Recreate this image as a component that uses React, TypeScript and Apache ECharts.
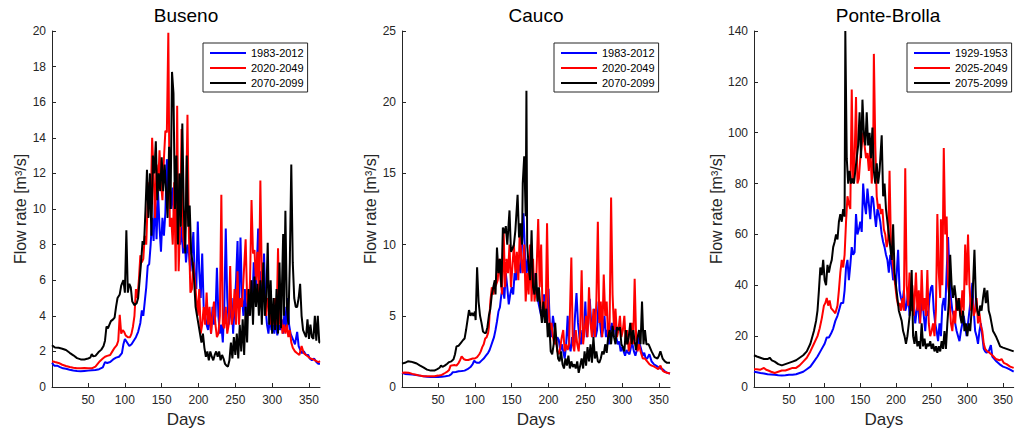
import React, { useEffect, useRef } from "react";
import * as echarts from "echarts";

// ---------- data ----------
const STATIONS = ["Buseno", "Cauco", "Ponte-Brolla"];
const PERIODS_BU = ["1983-2012", "2020-2049", "2070-2099"];
const PERIODS_CA = ["1983-2012", "2020-2049", "2070-2099"];
const PERIODS_PB = ["1929-1953", "2025-2049", "2075-2099"];
const DAY_TICKS = [50, 100, 150, 200, 250, 300, 350];
const Y_MAX = [20, 25, 140];
const Y_STEP = [2, 5, 20];
const X_TITLE = "Days";
const Y_TITLE = "Flow rate [m³/s]";

// Buseno
const buBlue = [[1,1.35],[4,1.2],[8,1.2],[12,1.12],[16,1.05],[20,1.02],[25,0.97],[30,0.93],[35,0.9],[40,0.88],[45,0.9],[50,0.92],[55,0.94],[60,0.95],[65,1.0],[70,1.1],[73,1.4],[76,1.35],[80,1.4],[84,1.55],[88,1.65],[92,1.7],[96,1.9],[98,2.4],[100,2.7],[103,2.5],[106,2.3],[109,2.4],[112,2.6],[115,2.8],[118,3.1],[121,3.6],[123,4.3],[125,4.0],[127,4.8],[129,5.6],[131,6.8],[133,6.9],[135,8.0],[137,9.5],[139,8.2],[141,10.8],[143,8.3],[145,11.0],[147,9.0],[149,7.6],[151,9.5],[153,8.5],[155,9.8],[157,12.8],[159,10.5],[161,11.5],[163,10.0],[165,11.2],[167,9.5],[169,10.5],[171,8.5],[173,9.5],[175,8.0],[177,9.0],[179,7.5],[181,8.5],[183,7.0],[185,8.0],[187,7.5],[189,6.5],[191,7.5],[193,8.7],[195,6.0],[197,5.5],[199,9.3],[201,6.5],[203,5.0],[205,7.5],[207,4.5],[209,4.0],[211,3.5],[213,3.2],[215,4.2],[217,3.0],[219,4.5],[221,3.5],[223,4.0],[225,6.7],[227,4.0],[229,3.0],[231,3.5],[233,2.5],[235,4.5],[237,8.9],[239,5.0],[241,3.5],[243,4.0],[245,5.0],[247,3.0],[249,4.5],[251,6.0],[253,8.2],[255,4.5],[257,8.4],[259,5.0],[261,4.0],[263,5.5],[265,3.5],[267,5.0],[269,4.0],[271,6.0],[273,4.5],[275,7.0],[277,5.0],[279,6.5],[281,8.9],[283,5.5],[285,6.5],[287,5.0],[289,7.5],[291,4.5],[293,3.5],[295,3.0],[297,4.0],[299,3.2],[301,3.5],[303,3.0],[305,3.8],[307,2.9],[309,3.5],[311,3.2],[313,3.8],[315,3.0],[317,4.5],[319,3.2],[321,5.0],[323,3.5],[325,3.0],[327,2.8],[329,2.6],[331,2.4],[334,3.1],[336,2.3],[338,2.1],[340,1.9],[343,2.0],[346,1.8],[349,1.8],[351,1.6],[354,1.5],[357,1.6],[360,1.4],[363,1.3],[365,1.3]];
const buRed = [[1,1.45],[5,1.4],[10,1.35],[15,1.25],[20,1.18],[25,1.12],[30,1.08],[35,1.05],[40,1.05],[45,1.07],[50,1.05],[55,1.05],[60,1.15],[63,1.3],[66,1.45],[70,1.6],[73,1.7],[76,1.75],[80,1.8],[83,2.0],[86,2.2],[89,2.35],[91,2.6],[93,4.05],[95,3.0],[97,3.2],[99,3.1],[101,2.9],[104,2.8],[107,2.8],[109,3.0],[111,3.4],[113,4.0],[115,5.5],[117,5.0],[119,6.0],[121,7.4],[123,7.0],[125,7.2],[127,8.5],[129,8.0],[131,10.5],[133,11.5],[135,10.0],[137,14.0],[139,12.0],[141,9.5],[143,12.5],[145,11.0],[147,13.3],[149,11.5],[151,10.5],[153,12.8],[155,14.4],[157,14.3],[159,19.9],[161,9.0],[163,9.5],[165,8.0],[167,11.5],[169,6.5],[171,15.8],[173,6.5],[175,9.0],[177,14.5],[179,8.5],[181,7.8],[183,10.0],[185,15.3],[187,8.5],[189,5.3],[191,5.5],[193,7.0],[195,6.0],[197,5.0],[199,4.0],[201,5.5],[203,3.0],[205,3.5],[207,4.5],[209,3.5],[211,5.3],[213,3.5],[215,4.5],[217,3.0],[219,4.0],[221,4.8],[223,3.5],[225,2.8],[227,3.0],[229,4.0],[231,10.8],[233,3.5],[235,3.3],[237,4.5],[239,3.0],[241,3.5],[243,6.8],[245,3.5],[247,4.0],[249,5.5],[251,3.5],[253,6.5],[255,3.5],[257,5.0],[259,4.5],[261,6.0],[264,8.3],[266,5.0],[268,4.0],[270,6.0],[272,10.5],[274,7.5],[276,7.7],[278,6.0],[280,7.6],[282,5.0],[284,11.6],[286,6.0],[288,5.5],[290,5.0],[292,4.0],[294,5.0],[296,4.5],[298,3.5],[300,4.5],[302,3.5],[304,5.0],[306,3.5],[308,7.8],[310,3.5],[312,4.0],[314,3.0],[316,3.5],[318,3.0],[320,3.5],[322,2.8],[324,3.2],[326,2.5],[328,2.2],[331,2.0],[334,1.9],[337,1.8],[340,2.3],[343,1.9],[346,1.8],[349,1.7],[352,1.6],[356,1.55],[360,1.45],[363,1.4],[365,1.45]];
const buBlack = [[1,2.35],[5,2.22],[10,2.2],[15,2.15],[20,2.08],[25,1.92],[30,1.78],[35,1.62],[40,1.55],[45,1.55],[50,1.6],[53,1.65],[55,1.85],[57,1.72],[60,1.75],[64,1.95],[68,2.1],[71,2.3],[73,2.6],[75,3.4],[77,3.3],[79,3.5],[81,3.7],[84,3.8],[86,3.9],[88,4.5],[90,5.0],[93,5.2],[95,5.7],[98,6.0],[100,5.3],[102,8.8],[104,5.3],[106,5.8],[108,5.6],[110,4.8],[113,4.6],[116,4.7],[118,5.0],[120,6.0],[122,7.0],[124,8.2],[126,8.0],[128,10.0],[130,12.2],[132,9.5],[134,12.0],[136,8.5],[138,13.0],[140,12.0],[142,13.8],[144,10.5],[146,12.0],[148,11.0],[150,12.9],[152,11.0],[154,12.5],[156,11.0],[158,9.5],[160,13.5],[162,10.0],[164,17.7],[166,16.5],[168,10.0],[170,13.0],[172,8.0],[174,12.0],[176,9.0],[178,14.8],[180,10.0],[182,7.5],[184,13.0],[186,9.0],[188,10.2],[190,7.5],[192,7.0],[194,6.0],[196,4.5],[198,4.0],[200,3.5],[202,3.0],[204,2.5],[206,3.0],[208,2.2],[210,1.7],[212,2.0],[214,1.5],[216,2.0],[218,1.7],[220,1.5],[222,1.8],[224,2.0],[226,1.7],[228,2.0],[230,1.5],[232,1.8],[234,1.6],[236,1.3],[238,1.2],[240,1.15],[242,1.5],[244,2.5],[246,1.6],[248,2.8],[250,1.8],[252,3.0],[254,1.6],[256,3.5],[258,2.0],[260,3.8],[262,1.8],[264,4.5],[266,2.5],[268,5.5],[270,4.0],[272,6.0],[274,3.5],[276,6.2],[278,4.5],[280,5.8],[282,4.0],[284,6.0],[286,3.5],[288,7.0],[290,4.0],[292,5.0],[294,8.1],[296,3.5],[298,6.0],[300,3.0],[302,5.0],[304,3.2],[306,5.5],[308,3.0],[310,7.0],[312,3.3],[315,8.6],[316,4.0],[318,9.9],[320,4.5],[322,3.5],[324,7.0],[326,12.5],[328,7.0],[330,5.0],[332,4.5],[334,4.5],[336,5.0],[338,5.8],[340,4.0],[342,3.2],[344,3.0],[346,2.8],[348,3.8],[350,2.7],[352,3.5],[354,2.8],[356,2.7],[358,4.0],[360,2.6],[362,4.0],[364,2.5],[365,2.5]];

// Cauco
const caBlue = [[1,1.0],[5,0.92],[10,0.9],[15,0.87],[20,0.85],[25,0.8],[30,0.75],[35,0.72],[40,0.7],[45,0.7],[50,0.7],[55,0.72],[60,0.75],[65,0.8],[68,0.9],[70,1.04],[74,1.05],[78,1.1],[82,1.12],[86,1.15],[90,1.25],[94,1.4],[97,1.6],[99,1.85],[101,1.75],[103,1.7],[106,1.7],[109,1.85],[112,2.0],[115,2.2],[118,2.4],[120,2.6],[122,2.9],[124,3.2],[126,3.5],[128,4.0],[130,4.6],[132,5.3],[134,5.6],[136,6.5],[138,7.0],[140,6.2],[142,8.0],[144,7.0],[146,5.8],[148,6.5],[150,7.0],[152,6.5],[154,8.0],[156,7.5],[158,9.0],[160,8.5],[162,8.0],[164,10.0],[166,12.2],[168,9.5],[170,8.0],[172,9.0],[174,7.5],[176,8.5],[178,6.5],[180,8.0],[182,6.5],[184,7.0],[186,6.0],[188,5.5],[190,5.0],[192,5.5],[194,6.5],[196,5.5],[198,4.5],[200,6.9],[202,4.0],[204,3.5],[206,5.0],[208,4.2],[210,3.0],[212,3.5],[214,3.3],[216,2.5],[218,3.0],[220,2.5],[222,2.0],[224,3.0],[226,5.0],[228,3.0],[230,2.5],[232,3.5],[234,3.0],[236,5.0],[238,6.6],[240,4.5],[242,3.5],[244,3.0],[246,4.0],[248,3.5],[250,6.0],[252,3.5],[254,4.5],[256,6.2],[258,4.5],[260,3.5],[262,5.5],[264,3.5],[266,4.0],[268,6.0],[270,4.5],[272,3.5],[274,4.0],[276,5.0],[278,3.5],[280,4.0],[282,3.0],[284,4.0],[286,4.5],[288,3.5],[290,5.2],[292,3.5],[294,3.0],[296,3.2],[298,2.5],[300,2.8],[302,2.5],[304,2.2],[306,2.6],[308,2.4],[310,2.3],[312,2.8],[314,3.0],[316,2.5],[318,2.2],[320,2.6],[322,3.5],[324,3.0],[326,2.6],[328,2.2],[330,2.4],[332,2.0],[334,2.0],[337,2.3],[340,1.8],[343,1.6],[346,1.5],[349,1.4],[352,1.3],[355,1.25],[358,1.1],[361,1.0],[365,0.95]];
const caRed = [[1,1.0],[5,1.02],[10,1.0],[15,0.92],[20,0.86],[25,0.8],[30,0.76],[35,0.75],[40,0.75],[45,0.76],[50,0.8],[55,0.85],[60,1.0],[63,1.1],[65,1.2],[67,1.5],[70,1.52],[72,1.55],[75,1.5],[78,1.7],[80,1.9],[82,2.15],[85,1.95],[88,1.9],[91,1.9],[94,1.95],[97,2.0],[100,2.0],[103,2.1],[106,2.3],[108,2.5],[110,2.8],[112,3.0],[114,3.4],[116,3.5],[118,3.8],[119,4.2],[121,6.0],[123,7.0],[125,6.5],[127,7.0],[129,7.2],[131,7.5],[133,9.0],[135,7.5],[137,6.5],[139,11.0],[141,7.0],[143,9.0],[145,8.0],[147,10.0],[149,7.0],[151,8.5],[153,10.0],[155,8.0],[157,9.5],[159,7.5],[161,11.0],[163,9.0],[165,8.0],[167,10.0],[169,6.0],[171,8.0],[173,6.5],[175,10.0],[177,6.0],[179,9.0],[181,6.0],[183,7.0],[186,11.8],[188,7.0],[190,10.0],[192,5.0],[194,6.0],[196,4.5],[198,11.5],[200,5.5],[202,4.0],[204,4.5],[206,3.5],[208,3.0],[210,3.5],[212,2.5],[214,2.3],[216,2.8],[218,3.5],[220,4.0],[222,2.5],[224,3.0],[226,2.6],[228,3.0],[231,9.1],[233,3.0],[235,2.5],[237,4.0],[239,3.0],[241,2.5],[243,4.0],[245,8.2],[247,3.0],[249,4.0],[251,5.0],[253,3.5],[255,7.0],[257,4.5],[259,3.5],[261,5.5],[263,3.5],[265,6.0],[267,11.6],[269,4.5],[271,6.0],[273,3.5],[275,7.9],[277,5.0],[279,6.0],[281,3.5],[283,4.5],[285,13.3],[287,6.5],[289,4.0],[291,5.5],[293,3.5],[295,4.0],[297,5.0],[299,3.5],[301,4.0],[303,5.0],[305,3.0],[307,4.0],[309,2.5],[311,3.0],[313,4.5],[315,3.0],[317,7.6],[319,3.5],[321,2.5],[323,3.0],[325,2.5],[328,2.0],[331,2.0],[334,1.8],[337,1.6],[340,1.5],[343,1.45],[346,1.35],[349,1.25],[352,1.5],[355,1.15],[358,1.05],[361,1.0],[365,0.95]];
const caBlack = [[1,1.64],[5,1.7],[9,1.8],[13,1.78],[17,1.72],[21,1.65],[25,1.52],[30,1.38],[35,1.22],[40,1.15],[45,1.15],[49,1.25],[52,1.35],[54,1.5],[56,1.42],[59,1.5],[62,1.62],[65,1.75],[68,1.8],[71,1.95],[73,2.3],[75,2.85],[78,2.9],[81,3.1],[84,3.3],[86,3.4],[88,4.0],[90,4.7],[92,5.4],[94,5.0],[96,5.2],[98,5.0],[100,5.3],[101,4.7],[103,8.4],[105,6.0],[107,5.0],[109,4.5],[111,3.9],[113,3.8],[115,3.8],[117,4.2],[119,5.0],[121,5.5],[123,6.5],[125,7.0],[127,7.5],[128,6.5],[130,9.8],[132,8.0],[134,9.0],[136,7.0],[138,11.2],[140,10.8],[142,11.3],[144,10.0],[147,12.4],[149,9.5],[151,9.7],[153,10.0],[155,11.0],[158,13.5],[160,10.5],[162,11.5],[164,10.0],[165,14.3],[167,16.2],[169,12.0],[170,20.8],[171,10.0],[173,8.5],[175,7.5],[177,11.0],[179,7.0],[181,6.5],[183,8.0],[185,6.0],[187,7.0],[189,5.5],[191,4.5],[193,6.0],[195,4.5],[197,5.5],[199,3.5],[201,4.5],[203,2.5],[205,2.3],[207,3.0],[209,4.5],[211,3.0],[213,2.0],[215,1.8],[217,2.5],[219,1.6],[221,1.3],[223,2.0],[225,1.5],[227,2.2],[229,1.3],[231,1.8],[233,1.4],[235,1.6],[237,1.3],[239,1.8],[241,1.0],[243,1.5],[245,2.0],[247,1.3],[249,2.5],[251,1.5],[253,2.8],[255,1.8],[257,3.0],[259,1.7],[261,3.5],[263,2.0],[265,2.5],[267,1.8],[269,1.7],[271,2.0],[273,2.5],[275,2.3],[277,3.0],[279,2.4],[281,3.5],[283,4.0],[285,3.0],[287,4.3],[289,3.5],[291,3.0],[293,4.2],[295,4.0],[297,4.2],[299,3.0],[301,2.8],[303,2.5],[305,4.0],[307,3.0],[309,3.5],[311,4.5],[313,3.0],[315,4.0],[317,3.2],[319,2.6],[321,3.5],[323,4.0],[325,3.0],[327,6.0],[329,3.0],[331,4.0],[333,3.0],[336,3.0],[340,2.5],[344,2.1],[348,2.0],[350,2.2],[352,2.5],[355,2.0],[358,1.8],[361,1.7],[365,1.7]];

// Ponte-Brolla
const pbBlue = [[1,6.0],[5,5.8],[10,5.5],[15,5.3],[20,5.0],[25,4.9],[30,4.8],[35,4.6],[40,4.5],[45,4.6],[50,4.8],[55,4.8],[60,5.0],[65,5.5],[70,6.0],[75,7.0],[80,8.0],[85,10.0],[90,12.0],[95,14.5],[100,17.0],[103,19.5],[106,19.5],[109,21.0],[112,23.0],[115,26.0],[118,28.0],[120,30.0],[123,33.0],[126,33.0],[128,38.0],[130,47.0],[132,50.0],[134,42.0],[136,48.0],[138,55.0],[140,52.0],[142,53.0],[144,68.0],[146,60.0],[148,62.0],[150,65.0],[152,61.0],[154,80.0],[156,72.0],[158,68.0],[160,78.0],[162,72.0],[164,66.0],[166,75.0],[168,74.0],[170,68.0],[172,63.0],[174,70.0],[176,68.0],[178,65.0],[180,60.0],[182,57.0],[184,55.0],[186,52.0],[188,50.0],[190,45.0],[192,52.0],[194,48.0],[196,42.0],[198,44.0],[200,40.0],[203,54.0],[205,38.0],[207,35.0],[209,33.0],[211,38.0],[213,30.0],[215,32.0],[217,38.0],[219,28.0],[221,35.0],[223,30.0],[225,33.0],[227,25.0],[229,30.0],[231,33.0],[233,25.0],[235,30.0],[237,35.0],[239,28.0],[241,22.0],[243,30.0],[245,28.0],[247,35.0],[249,39.0],[251,40.0],[253,30.0],[255,25.0],[257,22.0],[259,18.0],[261,25.0],[263,20.0],[265,32.0],[267,35.0],[269,30.0],[271,45.0],[273,59.0],[275,45.0],[277,35.0],[279,30.0],[281,28.0],[283,25.0],[285,22.0],[287,20.0],[289,18.0],[291,22.0],[293,25.0],[295,28.0],[297,24.0],[299,20.0],[301,25.0],[303,30.0],[305,35.0],[307,41.0],[309,30.0],[311,22.0],[313,20.0],[315,17.0],[317,22.0],[319,25.0],[321,20.0],[323,15.0],[325,14.0],[327,13.5],[330,14.0],[333,16.5],[335,12.0],[338,11.0],[341,10.0],[345,9.0],[350,8.0],[355,7.5],[360,6.8],[365,6.0]];
const pbRed = [[1,7.0],[5,7.0],[10,6.8],[15,7.5],[18,6.8],[21,6.5],[25,6.0],[30,5.5],[35,6.0],[40,6.5],[45,6.5],[50,7.0],[55,7.5],[60,7.5],[65,8.5],[70,10.0],[75,11.5],[80,14.0],[85,17.0],[90,20.0],[93,23.0],[96,27.0],[99,32.0],[101,33.0],[103,35.0],[105,32.0],[107,34.0],[109,31.0],[112,30.0],[115,29.0],[118,32.0],[120,38.0],[122,45.0],[124,50.0],[126,47.0],[128,52.0],[130,65.0],[132,75.0],[134,72.0],[136,70.0],[138,117.0],[140,80.0],[142,90.0],[144,114.0],[146,80.0],[148,82.0],[150,90.0],[152,95.0],[154,100.0],[156,95.0],[158,90.0],[160,92.0],[162,85.0],[164,95.0],[166,80.0],[168,90.0],[169,131.0],[171,95.0],[173,75.0],[175,70.0],[177,72.0],[179,68.0],[181,70.0],[183,62.0],[185,60.0],[187,55.0],[189,58.0],[191,85.0],[193,55.0],[195,50.0],[197,45.0],[199,40.0],[201,35.0],[203,32.0],[205,33.0],[207,30.0],[209,35.0],[211,30.0],[213,86.0],[215,40.0],[217,32.0],[219,45.0],[221,30.0],[223,40.0],[225,28.0],[228,45.0],[230,30.0],[232,38.0],[234,25.0],[236,46.0],[238,30.0],[240,35.0],[242,28.0],[244,46.0],[246,25.0],[248,20.0],[250,22.0],[252,25.0],[254,20.0],[256,30.0],[258,68.0],[260,45.0],[262,35.0],[263,66.0],[265,40.0],[267,94.0],[269,60.0],[271,67.0],[273,40.0],[275,35.0],[277,25.0],[279,22.0],[281,30.0],[283,25.0],[285,35.0],[287,30.0],[289,35.0],[291,28.0],[293,38.0],[295,30.0],[297,56.0],[299,40.0],[301,60.0],[303,40.0],[305,30.0],[307,35.0],[309,28.0],[311,30.0],[313,35.0],[315,25.0],[317,29.0],[319,24.0],[321,22.0],[323,17.0],[325,15.0],[328,14.0],[331,13.5],[335,12.5],[340,11.0],[345,10.5],[348,11.0],[351,9.5],[355,9.0],[360,8.0],[365,7.5]];
const pbBlack = [[1,12.5],[5,12.0],[10,11.5],[15,11.0],[20,11.0],[23,11.5],[26,10.5],[30,10.0],[35,9.0],[40,8.5],[45,9.0],[50,9.5],[55,10.0],[60,10.5],[65,11.5],[70,12.5],[75,14.0],[80,17.0],[85,22.0],[88,26.0],[90,30.0],[92,38.0],[94,47.0],[96,44.0],[98,50.0],[100,42.0],[102,40.0],[104,48.0],[106,45.0],[108,48.0],[110,50.0],[112,55.0],[114,57.0],[116,60.0],[118,58.0],[120,65.0],[122,68.0],[124,65.0],[126,70.0],[128,67.0],[129,140.0],[131,90.0],[133,80.0],[135,85.0],[137,80.0],[139,82.0],[141,80.0],[143,85.0],[145,90.0],[147,95.0],[149,108.0],[151,90.0],[153,113.0],[155,100.0],[157,95.0],[159,108.0],[161,95.0],[163,100.0],[165,90.0],[167,102.0],[169,85.0],[171,80.0],[173,88.0],[175,80.0],[177,85.0],[180,99.0],[182,75.0],[184,80.0],[186,70.0],[188,65.0],[190,60.0],[192,55.0],[194,50.0],[196,64.0],[198,45.0],[200,40.0],[202,35.0],[204,30.0],[206,28.0],[208,26.0],[210,22.0],[212,20.0],[214,17.0],[216,20.0],[218,25.0],[220,30.0],[222,46.0],[224,20.0],[226,17.0],[228,22.0],[230,16.0],[232,18.0],[234,15.0],[236,25.0],[238,16.0],[240,19.0],[242,15.0],[244,17.0],[246,16.0],[248,18.0],[250,15.0],[252,17.0],[254,14.0],[256,16.0],[258,13.5],[260,16.0],[262,14.0],[264,18.0],[266,15.0],[268,22.0],[270,15.0],[272,25.0],[274,33.0],[276,52.0],[278,40.0],[280,35.0],[282,40.0],[284,35.0],[286,30.0],[288,35.0],[290,28.0],[292,25.0],[294,30.0],[296,22.0],[298,25.0],[300,20.0],[302,25.0],[304,22.0],[306,30.0],[308,40.0],[310,54.0],[312,35.0],[314,30.0],[316,28.0],[318,32.0],[320,30.0],[322,35.0],[324,39.0],[326,33.0],[328,38.0],[330,30.0],[332,28.0],[334,25.0],[336,22.0],[338,21.0],[340,20.0],[343,18.0],[346,16.0],[350,15.5],[355,15.0],[360,14.5],[365,14.0]];

const PANEL_DATA = [
  [buBlue, buRed, buBlack],
  [caBlue, caRed, caBlack],
  [pbBlue, pbRed, pbBlack],
];
const PANEL_PERIODS = [PERIODS_BU, PERIODS_CA, PERIODS_PB];
const LINE_COLORS = ["#0000ff", "#ff0000", "#000000"];

// ---------- layout ----------
const FONT = "'Liberation Sans', Arial, Helvetica, sans-serif";
const AXIS_COLOR = "#262626";
const GRID_LEFT = [52, 402, 754];
const GRID_W = 268;
const GRID_TOP = 31;
const GRID_H = 360;
const LEGEND_LEFT = [203, 554, 907];
const NAME_GAP_Y = [22, 21, 29];

function buildOption() {
  const grid = GRID_LEFT.map((l) => ({ left: l, top: GRID_TOP, width: GRID_W, height: GRID_H, containLabel: false }));
  const title = STATIONS.map((s, i) => ({
    text: s,
    left: GRID_LEFT[i] + GRID_W / 2,
    top: 6,
    textAlign: "center",
    padding: 0,
    textStyle: { fontFamily: FONT, fontSize: 19, fontWeight: "normal", color: "#000" },
  }));
  const xAxis = GRID_LEFT.map((_, i) => ({
    type: "value",
    gridIndex: i,
    min: 1,
    max: 365,
    name: X_TITLE,
    nameLocation: "middle",
    nameGap: 24,
    nameTextStyle: { fontFamily: FONT, fontSize: 17, color: AXIS_COLOR },
    axisLine: { show: true, lineStyle: { color: AXIS_COLOR, width: 1 } },
    axisTick: { show: true, inside: true, length: 4, customValues: DAY_TICKS, lineStyle: { color: AXIS_COLOR } },
    axisLabel: { show: true, customValues: DAY_TICKS, margin: 7, fontFamily: FONT, fontSize: 12, color: AXIS_COLOR },
    splitLine: { show: false },
  }));
  const yAxis = GRID_LEFT.map((_, i) => ({
    type: "value",
    gridIndex: i,
    min: 0,
    max: Y_MAX[i],
    interval: Y_STEP[i],
    name: Y_TITLE,
    nameLocation: "middle",
    nameGap: NAME_GAP_Y[i],
    nameTextStyle: { fontFamily: FONT, fontSize: 16, color: AXIS_COLOR },
    axisLine: { show: true, lineStyle: { color: AXIS_COLOR, width: 1 } },
    axisTick: { show: true, inside: true, length: 4, lineStyle: { color: AXIS_COLOR } },
    axisLabel: { margin: 6, fontFamily: FONT, fontSize: 12, color: AXIS_COLOR },
    splitLine: { show: false },
  }));
  const series: any[] = [];
  PANEL_DATA.forEach((sets, p) => {
    sets.forEach((d, k) => {
      series.push({
        type: "line",
        name: PANEL_PERIODS[p][k],
        xAxisIndex: p,
        yAxisIndex: p,
        data: d,
        showSymbol: false,
        symbol: "none",
        color: LINE_COLORS[k],
        itemStyle: { color: LINE_COLORS[k] },
        lineStyle: { color: LINE_COLORS[k], width: 2 },
        z: 2 + k,
      });
    });
  });
  const legend = PANEL_PERIODS.map((names, p) => ({
    data: names,
    orient: "vertical",
    left: LEGEND_LEFT[p],
    top: 43,
    padding: [4, 4, 3, 7],
    itemGap: 3,
    itemWidth: 36,
    itemHeight: 2,
    icon: "rect",
    borderColor: AXIS_COLOR,
    borderWidth: 1,
    backgroundColor: "#fff",
    selectedMode: false,
    textStyle: { fontFamily: FONT, fontSize: 11, color: "#000", lineHeight: 12 },
  }));
  return { animation: false, backgroundColor: "#fff", title, grid, xAxis, yAxis, series, legend };
}

export default function App() {
  const ref = useRef<HTMLDivElement>(null);
  useEffect(() => {
    if (!ref.current) return;
    const chart = echarts.init(ref.current, null, { renderer: "svg" });
    chart.setOption(buildOption() as any);
    return () => chart.dispose();
  }, []);
  return (
    <div
      style={{ position: "fixed", left: 0, top: 0, width: 1016, height: 433, overflow: "hidden", background: "#fff" }}
    >
      <div ref={ref} style={{ width: 1016, height: 433 }} />
    </div>
  );
}
